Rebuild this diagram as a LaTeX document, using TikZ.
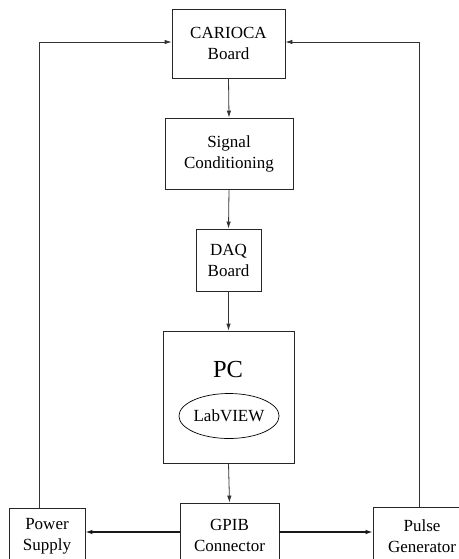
\documentclass[tikz,border=0pt]{standalone}
\usepackage{fontspec}
\setmainfont{Liberation Serif}
\usetikzlibrary{arrows.meta,shapes.geometric}
\tikzset{
  blk/.style={draw=black!85, line width=0.8pt, align=center, inner sep=0pt,
    font=\fontsize{17}{21}\selectfont},
  arr/.style={draw=black!80, line width=0.8pt, -{Latex[length=7pt,width=4.5pt]}},
  harr/.style={draw=black!90, line width=1.2pt, -{Latex[length=7pt,width=4.5pt]}},
}
\begin{document}
\begin{tikzpicture}[x=1pt,y=-1pt]
\useasboundingbox (0,0) rectangle (458,559);
\node[blk, minimum width=113pt, minimum height=69pt] (carioca) at (228.5,43.5) {CARIOCA\\Board};
\node[blk, minimum width=128pt, minimum height=71pt] (sig) at (229,153.5) {Signal\\Conditioning};
\node[blk, minimum width=65pt, minimum height=62pt] (daq) at (228.5,260) {DAQ\\Board};
\node[blk, minimum width=131pt, minimum height=132pt] (pc) at (228.5,397) {};
\node[font=\fontsize{24.5}{28}\selectfont, inner sep=0pt] (pclabel) at (228,370) {PC};
\node[draw=black, line width=0.7pt, ellipse, minimum width=96pt, minimum height=45pt, inner sep=0pt,
  font=\fontsize{17}{21}\selectfont] (lab) at (229,416) {LabVIEW};
\node[blk, minimum width=99pt, minimum height=64pt] (gpib) at (229.5,535) {GPIB\\Connector};
\node[blk, minimum width=76pt, minimum height=56pt] (ps) at (47,536) {Power\\Supply};
\node[blk, minimum width=98pt, minimum height=58pt] (pg) at (422,536) {Pulse\\Generator};
\draw[arr] (carioca.south) -- (sig.north);
\draw[arr] (sig.south) -- (daq.north);
\draw[arr] (daq.south) -- (pc.north);
\draw[arr] (pc.south) -- (gpib.north);
\draw[harr] ([yshift=3pt]gpib.west) -- ([yshift=3pt]gpib.west -| ps.east);
\draw[harr] ([yshift=3pt]gpib.east) -- ([yshift=3pt]gpib.east -| pg.west);
\draw[arr] ([xshift=-8pt]ps.north) |- ([yshift=1.5pt]carioca.west);
\draw[arr] ([xshift=-3pt]pg.north) |- ([yshift=1.5pt]carioca.east);
\end{tikzpicture}
\end{document}
